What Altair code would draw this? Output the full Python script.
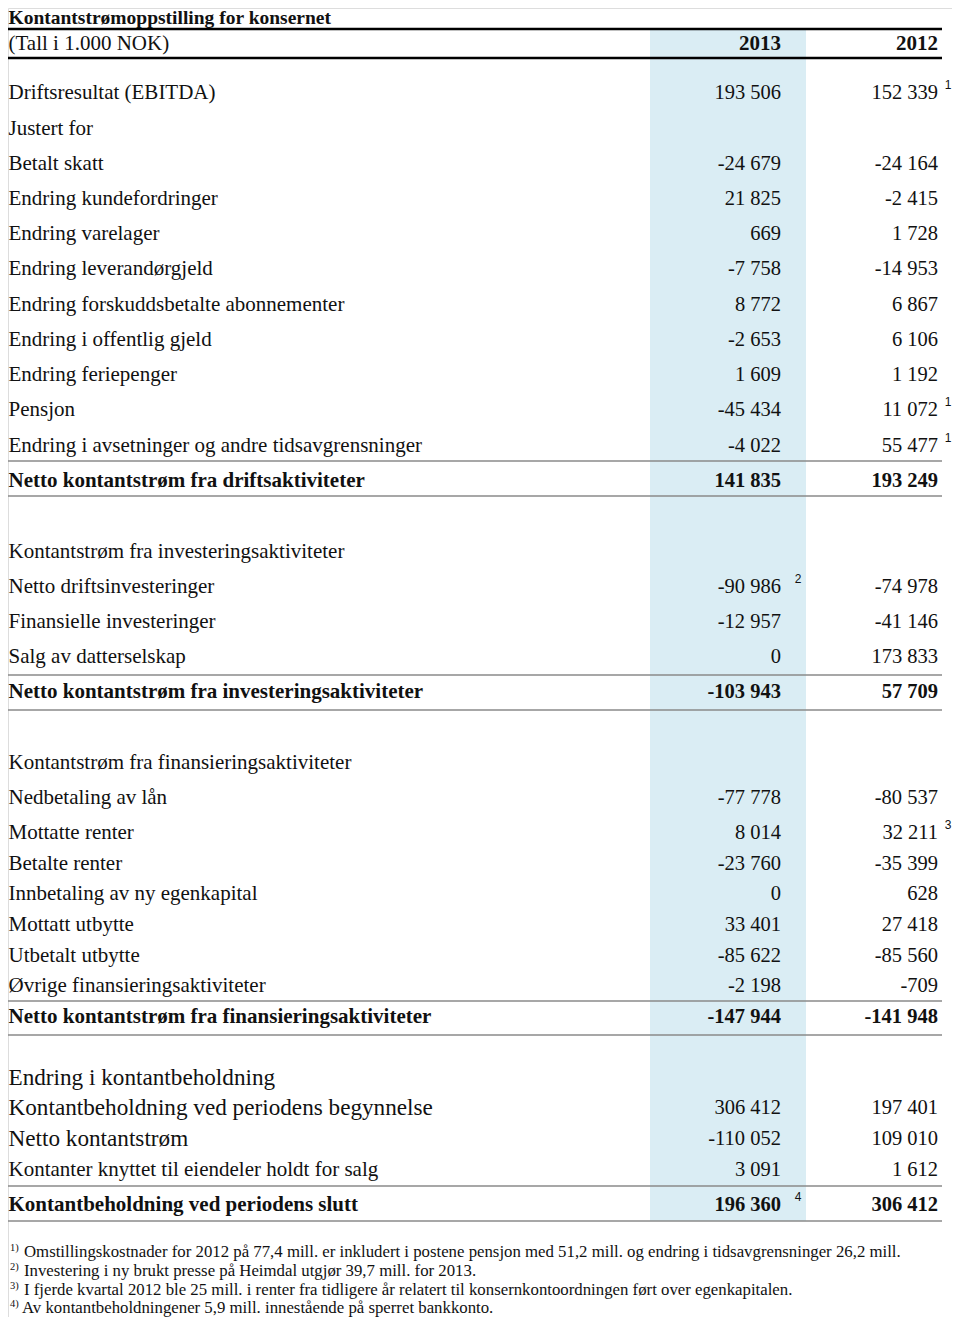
import altair as alt
import pandas as pd

# ---------------- data ----------------
title_text = "Kontantstrømoppstilling for konsernet"
unit_text = "(Tall i 1.000 NOK)"
years = ["2013", "2012"]

labels = [
    "Driftsresultat (EBITDA)", "Justert for", "Betalt skatt", "Endring kundefordringer",
    "Endring varelager", "Endring leverandørgjeld", "Endring forskuddsbetalte abonnementer",
    "Endring i offentlig gjeld", "Endring feriepenger", "Pensjon",
    "Endring i avsetninger og andre tidsavgrensninger",
    "Netto kontantstrøm fra driftsaktiviteter",
    "Kontantstrøm fra investeringsaktiviteter", "Netto driftsinvesteringer",
    "Finansielle investeringer", "Salg av datterselskap",
    "Netto kontantstrøm fra investeringsaktiviteter",
    "Kontantstrøm fra finansieringsaktiviteter", "Nedbetaling av lån", "Mottatte renter",
    "Betalte renter", "Innbetaling av ny egenkapital", "Mottatt utbytte", "Utbetalt utbytte",
    "Øvrige finansieringsaktiviteter",
    "Netto kontantstrøm fra finansieringsaktiviteter",
    "Endring i kontantbeholdning", "Kontantbeholdning ved periodens begynnelse",
    "Netto kontantstrøm", "Kontanter knyttet til eiendeler holdt for salg",
    "Kontantbeholdning ved periodens slutt",
]
v2013 = [193506, None, -24679, 21825, 669, -7758, 8772, -2653, 1609, -45434, -4022, 141835,
         None, -90986, -12957, 0, -103943,
         None, -77778, 8014, -23760, 0, 33401, -85622, -2198, -147944,
         None, 306412, -110052, 3091, 196360]
v2012 = [152339, None, -24164, -2415, 1728, -14953, 6867, 6106, 1192, 11072, 55477, 193249,
         None, -74978, -41146, 173833, 57709,
         None, -80537, 32211, -35399, 628, 27418, -85560, -709, -141948,
         None, 197401, 109010, 1612, 306412]

# note markers: (row label, column, marker)
notes = [
    ("Driftsresultat (EBITDA)", "2012", "1"),
    ("Pensjon", "2012", "1"),
    ("Endring i avsetninger og andre tidsavgrensninger", "2012", "1"),
    ("Netto driftsinvesteringer", "2013", "2"),
    ("Mottatte renter", "2012", "3"),
    ("Kontantbeholdning ved periodens slutt", "2013", "4"),
]

footnote_marks = ["1)", "2)", "3)", "4)"]
footnotes = [
    "Omstillingskostnader for 2012 på 77,4 mill. er inkludert i postene pensjon med 51,2 mill. og endring i tidsavgrensninger 26,2 mill.",
    "Investering i ny brukt presse på Heimdal utgjør 39,7 mill. for 2013.",
    "I fjerde kvartal 2012 ble 25 mill. i renter fra tidligere år relatert til konsernkontoordningen ført over egenkapitalen.",
    "Av kontantbeholdningener 5,9 mill. innestående på sperret bankkonto.",
]

# ---------------- layout (table geometry, page pixels) ----------------
row_center = [93, 129, 164, 199, 234, 269, 305, 340, 375, 410, 446, 481,
              552, 587, 622, 657, 692,
              763, 798, 833, 864, 894, 925, 956, 986, 1017,
              1078, 1108, 1139, 1170, 1205]
bold_rows = {11, 16, 25, 30}
large_rows = {26, 27, 28}
label_x = 8.5
col_right = {"2013": 781, "2012": 938}
note_x = {"2013": 798, "2012": 948}
band = {"x": 650, "x2": 806, "y": 30, "y2": 1221}
thick_lines = [29, 58]
thin_lines = [461, 496, 675, 710, 1001, 1035, 1186, 1221]
line_x = (8, 942)
title_y, header_y = 18, 44
foot_y = [1252, 1271, 1290, 1308]
foot_text_x = [24, 24, 24, 22]

FS = 21
SERIF = "Liberation Serif"
INK = "#111111"


def fmt(v):
    if v is None:
        return ""
    s = f"{abs(v):,}".replace(",", " ")
    return ("-" if v < 0 else "") + s


xs = alt.Scale(domain=[8, 952], nice=False, zero=False)
ys = alt.Scale(domain=[8, 1317], nice=False, zero=False, reverse=True)


def X(f):
    return alt.X(f, type="quantitative", scale=xs, axis=None)


def X2(f):
    return alt.X2(f)


def Y(f):
    return alt.Y(f, type="quantitative", scale=ys, axis=None)


# ---------------- tables ----------------
rows = pd.DataFrame({
    "label": labels,
    "y": row_center,
    "x": label_x,
    "v13": [fmt(v) for v in v2013],
    "v12": [fmt(v) for v in v2012],
    "bold": [i in bold_rows for i in range(len(labels))],
    "fs": [23.2 if i in large_rows else FS for i in range(len(labels))],
})

band_df = pd.DataFrame([band])

lines_df = pd.DataFrame(
    [{"y": y, "x": line_x[0], "x2": line_x[1], "kind": "thick"} for y in thick_lines]
    + [{"y": y, "x": line_x[0], "x2": line_x[1], "kind": "thin"} for y in thin_lines]
)

header_df = pd.DataFrame({
    "t": [years[0], years[1]],
    "x": [col_right["2013"], col_right["2012"]],
    "y": [header_y, header_y],
})

lab_pos = dict(zip(labels, row_center))
notes_df = pd.DataFrame([
    {"t": m, "x": note_x[c], "y": lab_pos[l] - 8} for l, c, m in notes
])

foot_df = pd.DataFrame({
    "t": footnotes, "m": footnote_marks, "y": foot_y, "x": foot_text_x,
    "mx": [10] * 4,
})

# ---------------- layers ----------------
band_layer = alt.Chart(band_df).mark_rect(color="#daedf4").encode(
    x=X("x"), x2=X2("x2"), y=Y("y"), y2=alt.Y2("y2"))

thick_layer = alt.Chart(lines_df).transform_filter("datum.kind == 'thick'").mark_rule(
    color="#000000", strokeWidth=2.5).encode(x=X("x"), x2=X2("x2"), y=Y("y"))
thin_layer = alt.Chart(lines_df).transform_filter("datum.kind == 'thin'").mark_rule(
    color="#8a8a8a", strokeWidth=1.6).encode(x=X("x"), x2=X2("x2"), y=Y("y"))

title_layer = alt.Chart(pd.DataFrame({"t": [title_text], "x": [label_x], "y": [title_y]})).mark_text(
    font=SERIF, fontSize=19.5, fontWeight="bold", align="left", baseline="middle", color=INK
).encode(x=X("x"), y=Y("y"), text="t:N")

unit_layer = alt.Chart(pd.DataFrame({"t": [unit_text], "x": [label_x], "y": [header_y]})).mark_text(
    font=SERIF, fontSize=FS, align="left", baseline="middle", color=INK
).encode(x=X("x"), y=Y("y"), text="t:N")

year_layer = alt.Chart(header_df).mark_text(
    font=SERIF, fontSize=FS, fontWeight="bold", align="right", baseline="middle", color=INK
).encode(x=X("x"), y=Y("y"), text="t:N")

label_normal = alt.Chart(rows).transform_filter("!datum.bold").mark_text(
    font=SERIF, align="left", baseline="middle", color=INK
).encode(x=X("x"), y=Y("y"), text="label:N", size=alt.Size("fs:Q", scale=None))

label_bold = alt.Chart(rows).transform_filter("datum.bold").mark_text(
    font=SERIF, fontWeight="bold", align="left", baseline="middle", color=INK
).encode(x=X("x"), y=Y("y"), text="label:N", size=alt.Size("fs:Q", scale=None))

num_layers = []
for col, field in (("2013", "v13"), ("2012", "v12")):
    base = alt.Chart(rows).transform_calculate(nx=str(col_right[col]))
    num_layers.append(base.transform_filter("!datum.bold").mark_text(
        font=SERIF, fontSize=20.5, align="right", baseline="middle", color=INK
    ).encode(x=X("nx"), y=Y("y"), text=f"{field}:N"))
    num_layers.append(base.transform_filter("datum.bold").mark_text(
        font=SERIF, fontSize=20.5, fontWeight="bold", align="right", baseline="middle", color=INK
    ).encode(x=X("nx"), y=Y("y"), text=f"{field}:N"))

note_layer = alt.Chart(notes_df).mark_text(
    font="Liberation Sans", fontSize=12, align="center", baseline="middle", color=INK
).encode(x=X("x"), y=Y("y"), text="t:N")

foot_mark_layer = alt.Chart(foot_df).transform_calculate(my="datum.y - 4").mark_text(
    font=SERIF, fontSize=10.5, align="left", baseline="middle", color=INK
).encode(x=X("mx"), y=Y("my"), text="m:N")

foot_text_layer = alt.Chart(foot_df).mark_text(
    font=SERIF, fontSize=16.8, align="left", baseline="middle", color=INK
).encode(x=X("x"), y=Y("y"), text="t:N")

chart = alt.layer(
    band_layer, thick_layer, thin_layer, title_layer, unit_layer, year_layer,
    label_normal, label_bold, *num_layers, note_layer, foot_mark_layer, foot_text_layer
).properties(
    width=944, height=1309, padding=0, autosize=alt.AutoSizeParams(type="none")
).configure_view(strokeWidth=0).configure(background="white")

chart.save("out.html", embed_options={"renderer": "svg", "actions": False})
